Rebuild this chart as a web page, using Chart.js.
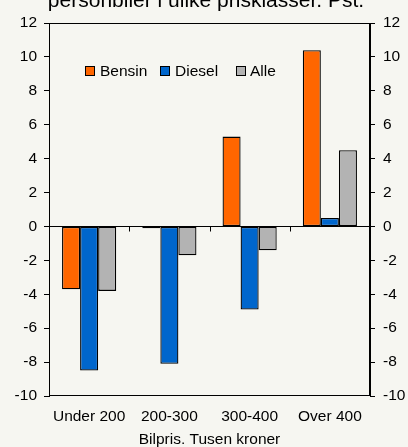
<!DOCTYPE html>
<html>
<head>
<meta charset="utf-8">
<script src="https://cdn.jsdelivr.net/npm/chart.js@4.4.1/dist/chart.umd.min.js"></script>
<style>
  html, body { margin: 0; padding: 0; background: #f6f6f1; }
  #wrap { width: 408px; height: 447px; position: relative; }
</style>
</head>
<body>
<div id="wrap"><canvas id="c" width="408" height="447"></canvas></div>
<script>
const titleText = 'personbiler i ulike prisklasser. Pst.';
const categories = ['Under 200', '200-300', '300-400', 'Over 400'];
const seriesNames = ['Bensin', 'Diesel', 'Alle'];
const bensin = [-3.7, -0.1, 5.3, 10.4];
const diesel = [-8.5, -8.1, -4.9, 0.5];
const alle = [-3.8, -1.7, -1.4, 4.5];
const yMin = -10, yMax = 12, yStep = 2;
const xTitle = 'Bilpris. Tusen kroner';

const FONT = '"Liberation Sans", Arial, sans-serif';
const BG = '#f6f6f1';
const FS = 15.5;

const decorPlugin = {
  id: 'decor',
  beforeDraw(chart) {
    const ctx = chart.ctx;
    ctx.save();
    ctx.fillStyle = BG;
    ctx.fillRect(0, 0, chart.width, chart.height);
    ctx.restore();
  },
  afterDatasetsDraw(chart) {
    const ctx = chart.ctx;
    const a = chart.chartArea;
    const x = chart.scales.x, y = chart.scales.y;
    ctx.save();
    ctx.strokeStyle = '#000';
    ctx.lineWidth = 1;
    ctx.strokeRect(Math.round(a.left) + 0.5, Math.round(a.top) + 0.5,
                   Math.round(a.right - a.left) - 1, Math.round(a.bottom - a.top) - 1);
    const y0 = Math.round(y.getPixelForValue(0)) + 0.5;
    ctx.beginPath();
    ctx.moveTo(a.left, y0); ctx.lineTo(a.right, y0);
    for (let i = 0; i < categories.length - 1; i++) {
      const bx = Math.round((x.getPixelForValue(i) + x.getPixelForValue(i + 1)) / 2) + 0.5;
      ctx.moveTo(bx, y0); ctx.lineTo(bx, y0 + 5);
    }
    ctx.stroke();
    const legendPos = [[85, 100], [160, 175], [236, 250]];
    const ly = 71;
    ctx.font = FS + 'px ' + FONT;
    ctx.textBaseline = 'middle';
    ctx.textAlign = 'left';
    chart.data.datasets.forEach((ds, i) => {
      const [bx, tx] = legendPos[i];
      ctx.fillStyle = ds.backgroundColor;
      ctx.fillRect(bx, ly - 5, 10, 10);
      ctx.strokeStyle = '#000';
      ctx.strokeRect(bx + 0.5, ly - 4.5, 9, 9);
      ctx.fillStyle = '#000';
      ctx.fillText(ds.label, tx, ly + 1);
    });
    ctx.font = '21px ' + FONT;
    ctx.textAlign = 'center';
    ctx.textBaseline = 'alphabetic';
    ctx.fillStyle = '#000';
    ctx.fillText(titleText, 206, 7);
    ctx.restore();
  }
};

const ds = (label, data, color) => ({
  label, data,
  backgroundColor: color,
  borderColor: '#000',
  borderWidth: 1.3,
  borderSkipped: false,
  categoryPercentage: 0.675,
  barPercentage: 1.0
});

new Chart(document.getElementById('c'), {
  type: 'bar',
  data: {
    labels: categories,
    datasets: [
      ds(seriesNames[0], bensin, '#ff6600'),
      ds(seriesNames[1], diesel, '#0066cc'),
      ds(seriesNames[2], alle, '#b3b3b3')
    ]
  },
  options: {
    responsive: false,
    animation: false,
    devicePixelRatio: 1,
    layout: { padding: { top: 23, left: 0, right: 0, bottom: 0 } },
    plugins: { legend: { display: false }, tooltip: { enabled: false } },
    scales: {
      x: {
        grid: { display: false },
        border: { display: false },
        ticks: { color: '#000', font: { size: FS, family: FONT }, padding: 3, maxRotation: 0, autoSkip: false },
        title: { display: true, text: xTitle, color: '#000', font: { size: FS, family: FONT }, padding: { top: 0, bottom: -2 } },
        afterFit(s) { s.height = 51; }
      },
      y: {
        position: 'left',
        min: yMin, max: yMax,
        ticks: { stepSize: yStep, color: '#000', font: { size: FS, family: FONT }, padding: 7 },
        grid: { drawOnChartArea: false, drawTicks: true, tickLength: 5, color: '#000' },
        border: { display: true, color: '#000' },
        afterFit(s) { s.width = 49; }
      },
      y2: {
        position: 'right',
        min: yMin, max: yMax,
        ticks: { stepSize: yStep, color: '#000', font: { size: FS, family: FONT }, padding: 8 },
        grid: { drawOnChartArea: false, drawTicks: true, tickLength: 5, color: '#000' },
        border: { display: true, color: '#000' },
        afterFit(s) { s.width = 38; }
      }
    }
  },
  plugins: [decorPlugin]
});
</script>
</body>
</html>
